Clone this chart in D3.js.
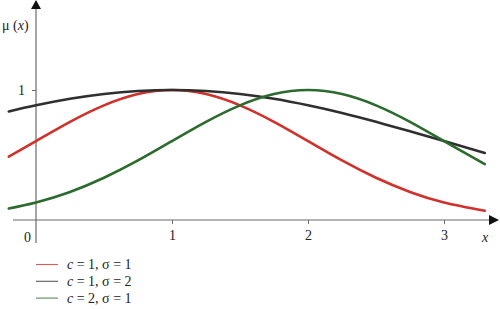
<!DOCTYPE html>
<html>
<head>
<meta charset="utf-8">
<script src="https://cdn.jsdelivr.net/npm/d3@7"></script>
<style>
  body { margin: 0; background: #fff; }
</style>
</head>
<body>
<div id="wrapper"></div>
<script>
// # Data
const xValues = [-0.2, 0, 0.25, 0.5, 0.75, 1, 1.25, 1.5, 1.75, 2, 2.25, 2.5, 2.75, 3, 3.3];
const redValues   = [0.487, 0.607, 0.755, 0.882, 0.969, 1.000, 0.969, 0.882, 0.755, 0.607, 0.458, 0.325, 0.216, 0.135, 0.071];
const blackValues = [0.835, 0.882, 0.932, 0.969, 0.992, 1.000, 0.992, 0.969, 0.932, 0.882, 0.823, 0.755, 0.682, 0.607, 0.516];
const greenValues = [0.089, 0.135, 0.216, 0.325, 0.458, 0.607, 0.755, 0.882, 0.969, 1.000, 0.969, 0.882, 0.755, 0.607, 0.430];
const xTicks = [1, 2, 3];
const yTicks = [1];
const seriesNames = [["1", "1"], ["1", "2"], ["2", "1"]]; // c, sigma
const seriesColors = ["#d1302b", "#2f2f2f", "#2c6a2e"];
const legendColors = ["#dd5a57", "#5a5a5a", "#5a8a5a"];

const serif = '"Liberation Serif", "Times New Roman", "DejaVu Serif", serif';

// # Dimensions
const width = 500;
const height = 309;

const svg = d3.select("#wrapper")
  .append("svg")
  .attr("width", width)
  .attr("height", height)
  .style("font-family", serif);

// # Scales
const xScale = d3.scaleLinear().domain([0, 3]).range([36, 444]);
const yScale = d3.scaleLinear().domain([0, 1]).range([220, 90]);

const axisColor = "#6b6b6b";

// # Axes lines with arrows
svg.append("line")
  .attr("x1", 13).attr("x2", 490)
  .attr("y1", yScale(0)).attr("y2", yScale(0))
  .attr("stroke", axisColor).attr("stroke-width", 1.2);
svg.append("path")
  .attr("d", `M489,${yScale(0) - 5} L499,${yScale(0)} L489,${yScale(0) + 5} Z`)
  .attr("fill", "#111");

svg.append("line")
  .attr("x1", xScale(0)).attr("x2", xScale(0))
  .attr("y1", 243).attr("y2", 7)
  .attr("stroke", axisColor).attr("stroke-width", 1.2);
svg.append("path")
  .attr("d", `M${xScale(0) - 5},9 L${xScale(0)},0 L${xScale(0) + 5},9 Z`)
  .attr("fill", "#111");

// # Ticks via d3 axes
const styleAxis = (g) => {
  g.select(".domain").remove();
  g.selectAll("line").attr("stroke", axisColor);
  g.selectAll("text")
    .attr("font-family", serif)
    .attr("font-size", 14)
    .attr("fill", "#222");
};

svg.append("g")
  .attr("transform", `translate(0,${yScale(0)})`)
  .call(d3.axisBottom(xScale).tickValues(xTicks).tickSize(4).tickPadding(6).tickFormat(d3.format("d")))
  .call(styleAxis);

svg.append("g")
  .attr("transform", `translate(${xScale(0)},0)`)
  .call(d3.axisLeft(yScale).tickValues(yTicks).tickSize(4).tickPadding(7).tickFormat(d3.format("d")))
  .call(styleAxis);

// origin label and axis titles
svg.append("text")
  .attr("x", xScale(0) - 5).attr("y", 242)
  .attr("text-anchor", "end")
  .attr("font-size", 14)
  .attr("fill", "#222")
  .text("0");

svg.append("text")
  .attr("x", 485).attr("y", 242)
  .attr("text-anchor", "middle")
  .attr("font-size", 14)
  .attr("font-style", "italic")
  .attr("fill", "#222")
  .text("x");

const yTitle = svg.append("text")
  .attr("x", 2).attr("y", 30)
  .attr("font-size", 14)
  .attr("fill", "#222");
yTitle.append("tspan").text("μ (");
yTitle.append("tspan").attr("font-style", "italic").text("x");
yTitle.append("tspan").text(")");

// # Curves
const series = [redValues, blackValues, greenValues];
const line = d3.line()
  .x((d, i) => xScale(xValues[i]))
  .y(d => yScale(d))
  .curve(d3.curveNatural);

svg.append("g")
  .selectAll("path")
  .data(series)
  .join("path")
  .attr("d", line)
  .attr("fill", "none")
  .attr("stroke", (d, i) => seriesColors[i])
  .attr("stroke-width", 2.6)
  .attr("stroke-linecap", "round");

// # Legend
const legend = svg.append("g")
  .selectAll("g")
  .data(seriesNames)
  .join("g")
  .attr("transform", (d, i) => `translate(36,${264.5 + i * 16.8})`);

legend.append("line")
  .attr("x1", 0).attr("x2", 22)
  .attr("stroke", (d, i) => legendColors[i])
  .attr("stroke-width", 1.1);

const legendText = legend.append("text")
  .attr("x", 31).attr("y", 4.5)
  .attr("font-size", 14)
  .attr("fill", "#222");
legendText.append("tspan").attr("font-style", "italic").text("c");
legendText.append("tspan").text(d => ` = ${d[0]}, σ = ${d[1]}`);
</script>
</body>
</html>
